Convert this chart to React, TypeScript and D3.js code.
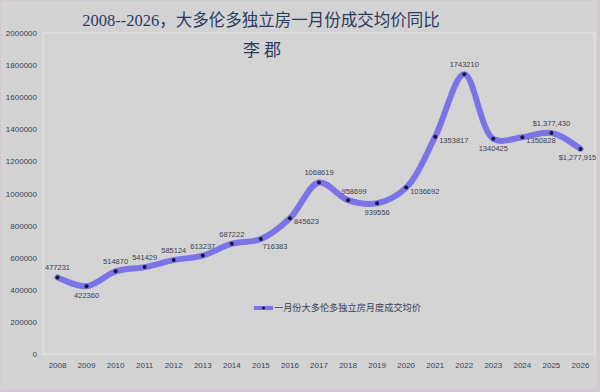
import React from 'react'
import * as d3 from 'd3'

const years = ['2008', '2009', '2010', '2011', '2012', '2013', '2014', '2015', '2016', '2017', '2018', '2019', '2020', '2021', '2022', '2023', '2024', '2025', '2026']
const prices = [477231, 422360, 514870, 541429, 585124, 613237, 687222, 716383, 845623, 1068619, 958699, 939556, 1036692, 1353817, 1743210, 1340425, 1350828, 1377430, 1277915]
const priceLabels = ['477231', '422360', '514870', '541429', '585124', '613237', '687222', '716383', '845623', '1068619', '958699', '939556', '1036692', '1353817', '1743210', '1340425', '1350828', '$1,377,430', '$1,277,915']
// where each value label sits relative to its point
const labelSide = ['above', 'below', 'above', 'above', 'above', 'above', 'above', 'belowRight', 'right', 'above', 'aboveRight', 'below', 'right', 'right', 'above', 'below', 'right', 'above', 'belowLeft']
const yTicks = [0, 200000, 400000, 600000, 800000, 1000000, 1200000, 1400000, 1600000, 1800000, 2000000]
const title = '2008--2026，大多伦多独立房一月份成交均价同比'
const author = '李 郡'
const legendName = '一月份大多伦多独立房月度成交均价'

const width = 600
const height = 392
const plot = { left: 43, right: 595, top: 33, bottom: 354 }

const App: React.FunctionComponent = () => {
  const x = d3.scaleBand().domain(years).range([plot.left, plot.right])
  const y = d3.scaleLinear().domain([0, 2000000]).range([plot.bottom, plot.top])
  const cx = (i: number) => (x(years[i]) as number) + x.bandwidth() / 2

  const line = d3
    .line<number>()
    .x((_, i) => cx(i))
    .y(d => y(d))
    .curve(d3.curveCatmullRom.alpha(0.5))

  const font = '"Liberation Sans", Arial, sans-serif'
  const titleFont = '"Liberation Serif", "DejaVu Serif", "Noto Sans CJK SC", serif'
  const labelColor = '#3b4156'

  const labelPos = (side: string) => {
    switch (side) {
      case 'above': return { dx: 0, dy: -7, anchor: 'middle' }
      case 'below': return { dx: 0, dy: 12, anchor: 'middle' }
      case 'right': return { dx: 4, dy: 6, anchor: 'start' }
      case 'belowRight': return { dx: 14, dy: 10, anchor: 'middle' }
      case 'belowLeft': return { dx: -3, dy: 11, anchor: 'middle' }
      case 'aboveRight': return { dx: 6, dy: -6, anchor: 'middle' }
      default: return { dx: 0, dy: -7, anchor: 'middle' }
    }
  }

  return (
    <svg width={width} height={height} style={{ position: 'absolute', left: 0, top: 0 }}>
      <rect x={0} y={0} width={width} height={height} fill="#d6c8d3" />
      <rect x={1} y={1} width={width - 4} height={height - 4} fill="#d3d3d3" />
      <rect
        x={plot.left}
        y={plot.top}
        width={plot.right - plot.left}
        height={plot.bottom - plot.top}
        fill="#d4d4d4"
        stroke="#e6e6e6"
        strokeWidth={1}
      />

      <text x={261} y={26} textAnchor="middle" fontFamily={titleFont} fontSize={16.5} fill="#2c3a62">
        {title}
      </text>
      <text x={262} y={56} textAnchor="middle" fontFamily={titleFont} fontSize={17} fill="#2c3a62">
        {author}
      </text>

      {yTicks.map(t => (
        <text key={t} x={37} y={y(t) + 3} textAnchor="end" fontFamily={font} fontSize={8} fill={labelColor}>
          {t}
        </text>
      ))}
      {years.map(yr => (
        <text key={yr} x={(x(yr) as number) + x.bandwidth() / 2} y={368} textAnchor="middle" fontFamily={font} fontSize={8} fill={labelColor}>
          {yr}
        </text>
      ))}

      <path d={line(prices) || ''} fill="none" stroke="#7b73e6" strokeWidth={6} strokeLinecap="round" />
      {prices.map((p, i) => (
        <circle key={i} cx={cx(i)} cy={y(p)} r={2} fill="#14143c" />
      ))}
      {prices.map((p, i) => {
        const pos = labelPos(labelSide[i])
        return (
          <text
            key={i}
            x={cx(i) + pos.dx}
            y={y(p) + pos.dy}
            textAnchor={pos.anchor}
            fontFamily={font}
            fontSize={7.5}
            fill={labelColor}
          >
            {priceLabels[i]}
          </text>
        )
      })}

      <g transform="translate(254,308)">
        <line x1={0} y1={0} x2={19} y2={0} stroke="#7b73e6" strokeWidth={4} />
        <circle cx={9.5} cy={0} r={1.5} fill="#14143c" />
        <text x={20} y={3.3} fontFamily='"Noto Sans CJK SC", sans-serif' fontSize={9.2} fill={labelColor}>
          {legendName}
        </text>
      </g>
    </svg>
  )
}

export default App
